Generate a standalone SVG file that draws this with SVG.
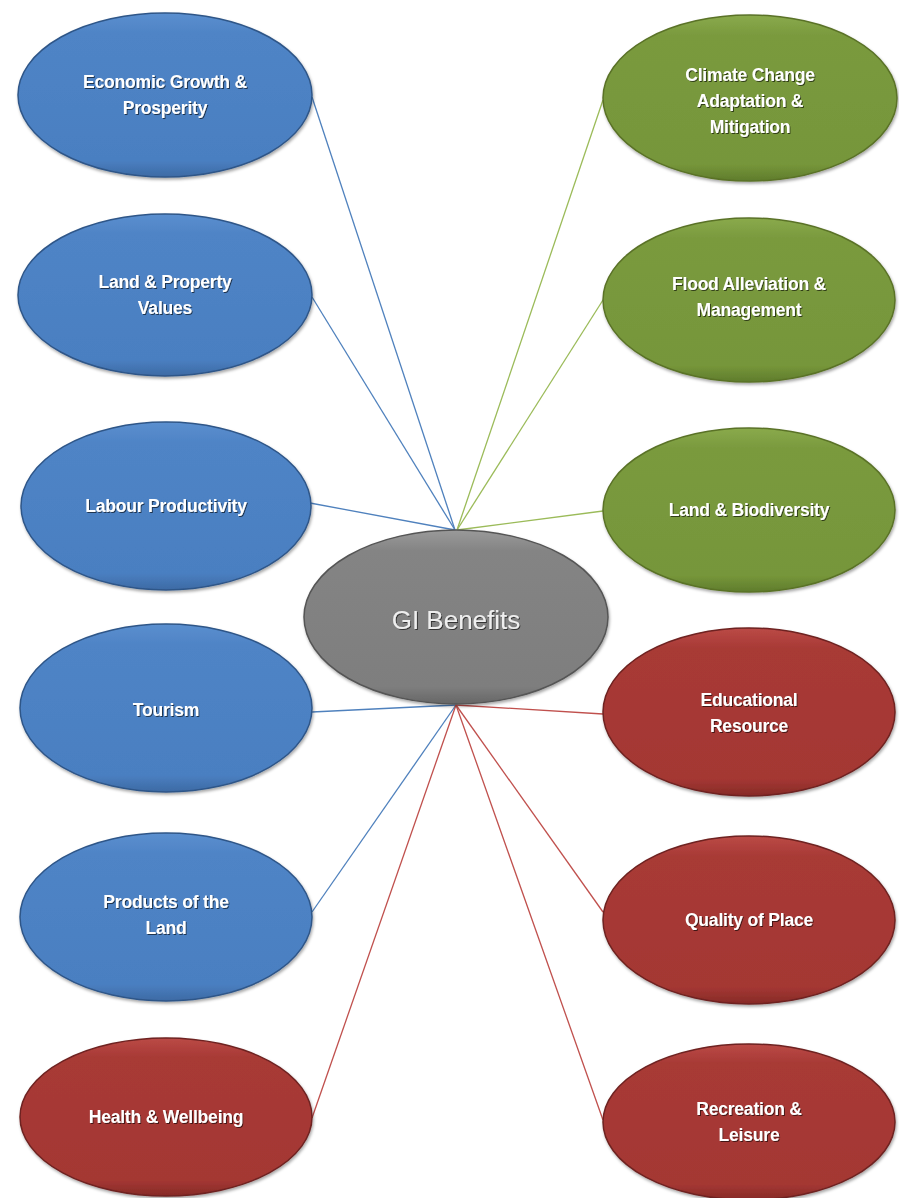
<svg xmlns="http://www.w3.org/2000/svg" width="899" height="1198" viewBox="0 0 899 1198">
<style>
.conn line{stroke-width:1.3;fill:none}
.cb{stroke:#4f81bd}
.cg{stroke:#9bbb59}
.cr{stroke:#c0504d}
.node ellipse{stroke-width:1.5;filter:url(#sh)}
.blue ellipse{fill:url(#gb);stroke:#2f5688}
.green ellipse{fill:url(#gg);stroke:#5a7228}
.red ellipse{fill:url(#gr);stroke:#6e2220}
.gray ellipse{fill:url(#gk);stroke:#555}
.node text{font-family:"Liberation Sans",Arial,sans-serif;font-weight:bold;font-size:17.5px;fill:#fff;text-anchor:middle;filter:url(#ts);letter-spacing:-0.2px}
.gray text{font-size:26px;font-weight:normal;fill:#eee;letter-spacing:0}
</style>
<defs>
<linearGradient id="gb" x1="0" y1="0" x2="0" y2="1"><stop offset="0" stop-color="#5b8fcf"/><stop offset="0.12" stop-color="#4f84c6"/><stop offset="0.9" stop-color="#4a7fc1"/><stop offset="1" stop-color="#3d6aa4"/></linearGradient>
<linearGradient id="gg" x1="0" y1="0" x2="0" y2="1"><stop offset="0" stop-color="#8aaa4c"/><stop offset="0.12" stop-color="#7a9a3e"/><stop offset="0.9" stop-color="#76963a"/><stop offset="1" stop-color="#5f7c2c"/></linearGradient>
<linearGradient id="gr" x1="0" y1="0" x2="0" y2="1"><stop offset="0" stop-color="#bb4a46"/><stop offset="0.12" stop-color="#a83a36"/><stop offset="0.9" stop-color="#a43733"/><stop offset="1" stop-color="#862a27"/></linearGradient>
<linearGradient id="gk" x1="0" y1="0" x2="0" y2="1"><stop offset="0" stop-color="#9a9a9a"/><stop offset="0.12" stop-color="#848484"/><stop offset="0.9" stop-color="#7e7e7e"/><stop offset="1" stop-color="#666"/></linearGradient>
<filter id="sh" x="-10%" y="-10%" width="120%" height="130%"><feDropShadow dx="1" dy="2" stdDeviation="1.5" flood-color="#000" flood-opacity="0.35"/></filter>
<filter id="ts" x="-10%" y="-30%" width="120%" height="160%"><feDropShadow dx="1" dy="1" stdDeviation="0.6" flood-color="#000" flood-opacity="0.6"/></filter>
</defs>
<rect width="899" height="1198" fill="#fff"/>
<g id="connectors" class="conn">
<line class="cb" x1="455" y1="530" x2="312" y2="97"/>
<line class="cb" x1="455" y1="530" x2="312" y2="297"/>
<line class="cb" x1="455" y1="530" x2="310" y2="503"/>
<line class="cg" x1="457" y1="530" x2="603" y2="100"/>
<line class="cg" x1="457" y1="530" x2="603" y2="300"/>
<line class="cg" x1="457" y1="530" x2="603" y2="511"/>
<line class="cb" x1="456" y1="705" x2="312" y2="712"/>
<line class="cb" x1="456" y1="705" x2="312" y2="912"/>
<line class="cr" x1="456" y1="705" x2="312" y2="1118"/>
<line class="cr" x1="456" y1="705" x2="603" y2="714"/>
<line class="cr" x1="456" y1="705" x2="603" y2="912"/>
<line class="cr" x1="456" y1="705" x2="603" y2="1120"/>
</g>
<g id="n-economic" class="node blue"><ellipse cx="165" cy="95" rx="147" ry="82"/><text x="165" y="88">Economic Growth &amp;</text><text x="165" y="114">Prosperity</text></g>
<g id="n-landprop" class="node blue"><ellipse cx="165" cy="295" rx="147" ry="81"/><text x="165" y="288">Land &amp; Property</text><text x="165" y="314">Values</text></g>
<g id="n-labour" class="node blue"><ellipse cx="166" cy="506" rx="145" ry="84"/><text x="166" y="512">Labour Productivity</text></g>
<g id="n-tourism" class="node blue"><ellipse cx="166" cy="708" rx="146" ry="84"/><text x="166" y="716">Tourism</text></g>
<g id="n-products" class="node blue"><ellipse cx="166" cy="917" rx="146" ry="84"/><text x="166" y="908">Products of the</text><text x="166" y="934">Land</text></g>
<g id="n-health" class="node red"><ellipse cx="166" cy="1117" rx="146" ry="79"/><text x="166" y="1123">Health &amp; Wellbeing</text></g>
<g id="n-climate" class="node green"><ellipse cx="750" cy="98" rx="147" ry="83"/><text x="750" y="81">Climate Change</text><text x="750" y="107">Adaptation &amp;</text><text x="750" y="133">Mitigation</text></g>
<g id="n-flood" class="node green"><ellipse cx="749" cy="300" rx="146" ry="82"/><text x="749" y="290">Flood Alleviation &amp;</text><text x="749" y="316">Management</text></g>
<g id="n-landbio" class="node green"><ellipse cx="749" cy="510" rx="146" ry="82"/><text x="749" y="516">Land &amp; Biodiversity</text></g>
<g id="n-edu" class="node red"><ellipse cx="749" cy="712" rx="146" ry="84"/><text x="749" y="706">Educational</text><text x="749" y="732">Resource</text></g>
<g id="n-quality" class="node red"><ellipse cx="749" cy="920" rx="146" ry="84"/><text x="749" y="926">Quality of Place</text></g>
<g id="n-recreation" class="node red"><ellipse cx="749" cy="1122" rx="146" ry="78"/><text x="749" y="1115">Recreation &amp;</text><text x="749" y="1141">Leisure</text></g>
<g id="n-gi" class="node gray"><ellipse cx="456" cy="617" rx="152" ry="87"/><text x="456" y="629">GI Benefits</text></g>
</svg>
